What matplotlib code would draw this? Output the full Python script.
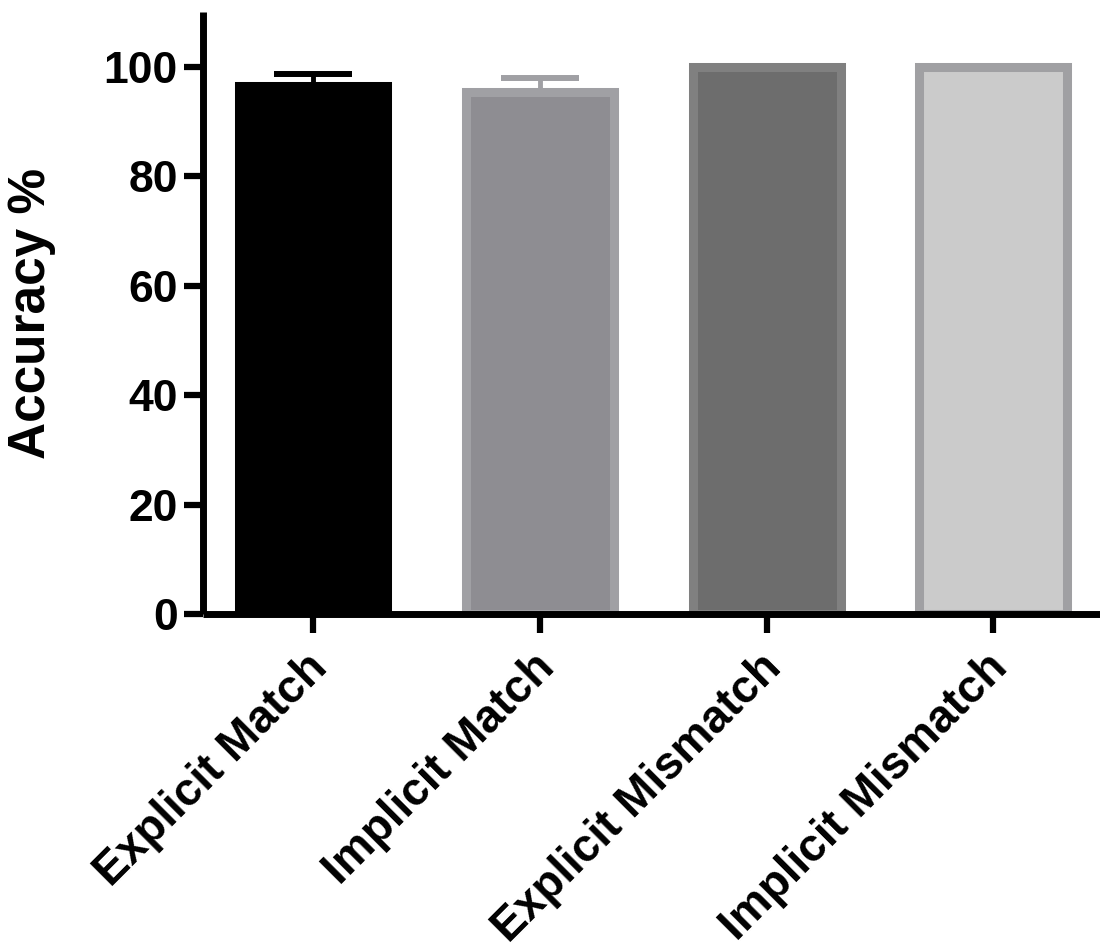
import numpy as np
import matplotlib.pyplot as plt
import matplotlib.transforms as mtransforms

# data
conditions = ["Explicit Match", "Implicit Match", "Explicit Mismatch", "Implicit Mismatch"]
accuracy = [96.5, 95.3, 100.0, 100.0]
sem = [2.2, 2.7, 0.1, 0.1]

fill_colors = ["#000000", "#8e8d92", "#6d6d6d", "#cbcbcb"]
edge_colors = ["#000000", "#a0a0a4", "#808080", "#a0a0a3"]

plt.rcParams['font.family'] = ['Liberation Sans', 'DejaVu Sans']
plt.rcParams['font.weight'] = 'bold'

fig = plt.figure(figsize=(11, 9.51), dpi=100)
ax = fig.add_axes([0.1845, 0.3544, 0.8155, 0.633])

x = np.arange(len(conditions))
ax.bar(x, accuracy, width=0.653, color=fill_colors, edgecolor=edge_colors,
       linewidth=6.5, zorder=1)

# upward error bars only
for i in range(len(x)):
    eb = ax.errorbar(x[i], accuracy[i], yerr=[[0], [sem[i]]], fmt='none',
                     ecolor=edge_colors[i], elinewidth=3.5, capsize=28, capthick=4.3,
                     zorder=0.5)
    for cap in eb[1]:
        cap.set_solid_capstyle('round')

ax.set_xlim(-0.487, 3.47)
ax.set_ylim(0, 110)
ax.set_yticks([0, 20, 40, 60, 80, 100])

for s in ['top', 'right']:
    ax.spines[s].set_visible(False)
for s in ['left', 'bottom']:
    ax.spines[s].set_linewidth(5)
    ax.spines[s].set_capstyle('butt')

ax.tick_params(axis='y', length=14, width=4.5, pad=4, labelsize=32)
ax.tick_params(axis='x', length=14, width=4.5, pad=6)
ax.set_xticks(x)
ax.set_xticklabels(conditions, rotation=45, ha='right', va='top',
                   rotation_mode='anchor', fontsize=33, fontweight='bold')
shift = mtransforms.ScaledTranslation(-8 / 100, -4 / 100, fig.dpi_scale_trans)
for lab in ax.get_xticklabels():
    lab.set_transform(lab.get_transform() + shift)
for lab in ax.get_yticklabels():
    lab.set_fontweight('bold')

ax.set_ylabel("Accuracy %", fontsize=37, fontweight='bold', labelpad=34)

fig.savefig("out.png", dpi=100)
